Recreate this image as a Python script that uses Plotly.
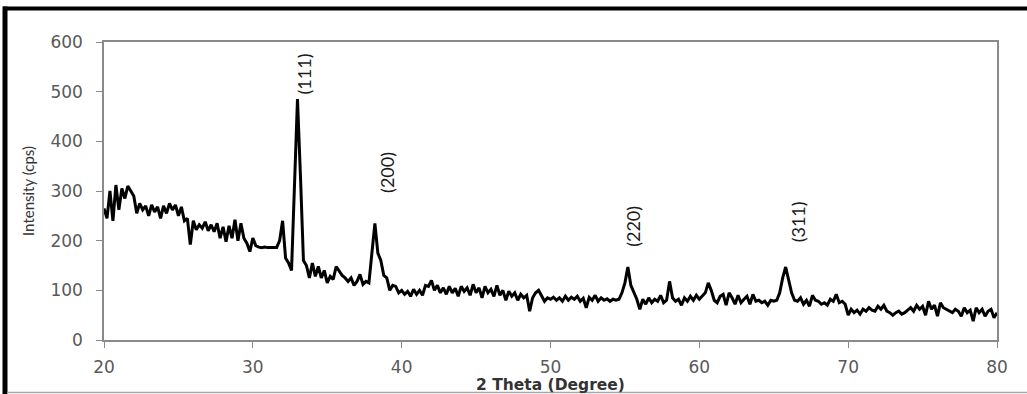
import plotly.graph_objects as go

# 2-theta grid start/step (degrees) and intensity readings (cps), every 0.2 deg
theta_start = 20.0
theta_step = 0.2
intensity = [
    # 20.0 - 21.8
    265, 245, 300, 240, 312, 262, 305, 285, 310, 300,
    # 22.0 - 23.8
    290, 255, 275, 262, 270, 250, 272, 258, 268, 245,
    # 24.0 - 25.8
    270, 255, 275, 262, 272, 250, 268, 240, 245, 192,
    # 26.0 - 27.8
    240, 222, 232, 225, 238, 220, 232, 218, 235, 205,
    # 28.0 - 29.8
    228, 198, 230, 205, 242, 200, 235, 205, 195, 178,
    # 30.0 - 31.8
    205, 190, 187, 186, 187, 186, 186, 187, 186, 200,
    # 32.0 - 33.8
    240, 165, 155, 140, 300, 485, 330, 160, 150, 125,
    # 34.0 - 35.8
    155, 128, 148, 125, 140, 115, 128, 122, 148, 140,
    # 36.0 - 37.8
    130, 125, 118, 125, 110, 118, 132, 112, 118, 115,
    # 38.0 - 39.8
    180, 235, 175, 160, 130, 125, 100, 110, 108, 95,
    # 40.0 - 41.8
    100, 92, 98, 88, 102, 92, 100, 90, 110, 108,
    # 42.0 - 43.8
    120, 100, 110, 95, 105, 92, 108, 95, 104, 88,
    # 44.0 - 45.8
    108, 98, 105, 90, 112, 95, 105, 85, 108, 95,
    # 46.0 - 47.8
    102, 88, 110, 90, 100, 80, 98, 88, 95, 80,
    # 48.0 - 49.8
    92, 85, 90, 58, 85, 95, 100, 88, 78, 85,
    # 50.0 - 51.8
    82, 86, 80, 85, 78, 88, 80, 86, 82, 88,
    # 52.0 - 53.8
    78, 84, 65, 86, 80, 90, 78, 85, 80, 83,
    # 54.0 - 55.8
    78, 82, 80, 82, 95, 115, 147, 110, 95, 82,
    # 56.0 - 57.8
    62, 82, 72, 85, 75, 82, 78, 90, 75, 80,
    # 58.0 - 59.8
    118, 85, 78, 82, 70, 85, 78, 88, 80, 90,
    # 60.0 - 61.8
    82, 88, 95, 115, 100, 80, 75, 88, 92, 70,
    # 62.0 - 63.8
    95, 85, 72, 90, 75, 82, 88, 72, 92, 78,
    # 64.0 - 65.8
    80, 75, 78, 70, 80, 78, 80, 95, 125, 147,
    # 66.0 - 67.8
    120, 95, 80, 78, 85, 72, 80, 68, 90, 80,
    # 68.0 - 69.8
    78, 72, 75, 70, 82, 78, 92, 75, 78, 72,
    # 70.0 - 71.8
    50, 62, 55, 60, 52, 62, 58, 65, 60, 58,
    # 72.0 - 73.8
    68, 62, 70, 58, 55, 50, 55, 58, 52, 55,
    # 74.0 - 75.8
    60, 65, 58, 70, 62, 68, 50, 78, 62, 70,
    # 76.0 - 77.8
    48, 75, 65, 62, 58, 55, 62, 58, 48, 65,
    # 78.0 - 79.8
    55, 60, 38, 65, 55, 62, 48, 58, 62, 45,
    # 80.0
    55,
]
two_theta = [round(theta_start + theta_step * i, 1) for i in range(len(intensity))]

# Peak labels (Miller indices) and their label anchor positions in data units
peak_labels = ["(111)", "(200)", "(220)", "(311)"]
peak_label_x = [33.45, 39.0, 55.55, 66.6]
peak_label_y = [535, 338, 228, 238]

x_ticks = [20, 30, 40, 50, 60, 70, 80]
y_ticks = [0, 100, 200, 300, 400, 500, 600]

FONT = "Lato, 'Open Sans', sans-serif"
TICK_FONT = "'DejaVu Sans', Verdana, sans-serif"
AXIS_GRAY = "#8a8a8a"
TICK_TEXT = "#595959"

fig = go.Figure()
fig.add_trace(go.Scatter(
    x=two_theta, y=intensity, mode="lines",
    line=dict(color="black", width=3),
    showlegend=False, hoverinfo="x+y",
))

for lab, lx, ly in zip(peak_labels, peak_label_x, peak_label_y):
    fig.add_annotation(
        x=lx, y=ly, xref="x", yref="y", text=lab, textangle=-90,
        showarrow=False, font=dict(family=FONT, size=18, color="#1a1a1a"),
    )

# Outer picture frame (thick black top/left, thin gray bottom)
W, H = 1027, 394
ML, MR, MT, MB = 104, 30, 42, 54
pw, ph = W - ML - MR, H - MT - MB


def px(xp):
    return (xp - ML) / pw


def py(yp):
    return (H - MB - yp) / ph


fig.add_shape(type="line", xref="paper", yref="paper",
              x0=px(3), x1=px(1035), y0=py(8.5), y1=py(8.5),
              line=dict(color="black", width=4))
fig.add_shape(type="line", xref="paper", yref="paper",
              x0=px(5), x1=px(5), y0=py(6.5), y1=py(400),
              line=dict(color="black", width=5))
fig.add_shape(type="line", xref="paper", yref="paper",
              x0=px(7), x1=px(1035), y0=py(392.5), y1=py(392.5),
              line=dict(color="#a8a8a8", width=1.5))

fig.update_layout(
    width=W, height=H, autosize=False,
    margin=dict(l=ML, r=MR, t=MT, b=MB, pad=0),
    paper_bgcolor="white", plot_bgcolor="white",
    font=dict(family=FONT, color=TICK_TEXT),
    xaxis=dict(
        range=[20, 80], tickvals=x_ticks, ticktext=[str(v) for v in x_ticks],
        showgrid=False, zeroline=False, automargin=False,
        showline=True, linecolor=AXIS_GRAY, linewidth=1.5, mirror=True,
        ticks="outside", ticklen=6, tickcolor=AXIS_GRAY, tickwidth=1,
        ticklabelstandoff=5,
        tickfont=dict(family=TICK_FONT, size=17, color=TICK_TEXT),
        title=dict(text="<b>2 Theta (Degree)</b>", standoff=0,
                   font=dict(family=TICK_FONT, size=15.5, color="#333333")),
    ),
    yaxis=dict(
        range=[0, 600], tickvals=y_ticks, ticktext=[str(v) for v in y_ticks],
        showgrid=False, zeroline=False, automargin=False,
        showline=True, linecolor=AXIS_GRAY, linewidth=1.5, mirror=True,
        ticks="outside", ticklen=6, tickcolor=AXIS_GRAY, tickwidth=1,
        ticklabelstandoff=10,
        tickfont=dict(family=TICK_FONT, size=17, color=TICK_TEXT),
        title=dict(text="Intensity (cps)", standoff=12,
                   font=dict(family=FONT, size=15, color="#333333")),
    ),
)

fig.write_html("out.html", post_script="document.body.style.margin='0';",
               config={"displayModeBar": False})
